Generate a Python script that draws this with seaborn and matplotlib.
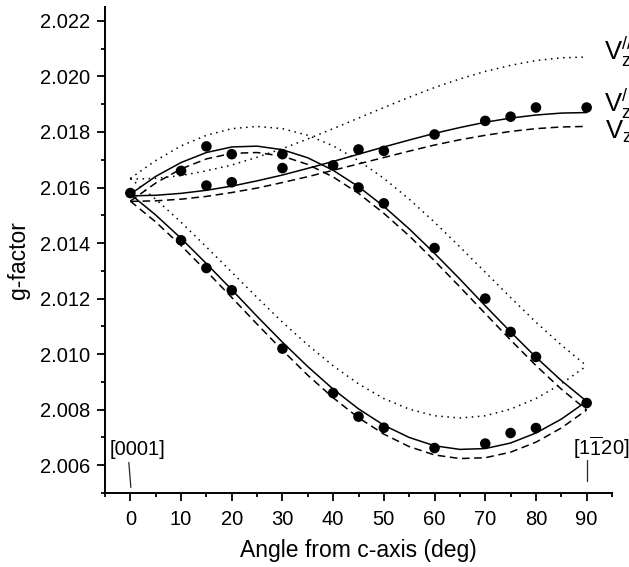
import matplotlib
matplotlib.use("Agg")
import matplotlib.pyplot as plt
import pandas as pd
import seaborn as sns
from matplotlib.ticker import MultipleLocator, FormatStrFormatter

# Rotation angle grid of the simulated curves (deg from c-axis)
angle = [0, 5, 10, 15, 20, 25, 30, 35, 40, 45, 50, 55, 60, 65, 70, 75, 80, 85, 90]

# V'_z model (solid)
solid_low = [2.01576, 2.01501, 2.01417, 2.01326, 2.01232, 2.01136, 2.01043, 2.00955, 2.00874, 2.00803,
             2.00744, 2.00700, 2.00670, 2.00657, 2.00660, 2.00680, 2.00716, 2.00766, 2.00830]
solid_mid = [2.01576, 2.01640, 2.01690, 2.01726, 2.01746, 2.01749, 2.01736, 2.01707, 2.01662, 2.01603,
             2.01532, 2.01451, 2.01363, 2.01270, 2.01174, 2.01080, 2.00989, 2.00905, 2.00830]
solid_up = [2.01570, 2.01572, 2.01579, 2.01590, 2.01605, 2.01624, 2.01645, 2.01669, 2.01694, 2.01720,
            2.01746, 2.01771, 2.01795, 2.01816, 2.01835, 2.01850, 2.01861, 2.01868, 2.01870]

# V_z model (dashed)
dash_low = [2.01551, 2.01476, 2.01391, 2.01299, 2.01204, 2.01108, 2.01014, 2.00924, 2.00843, 2.00771,
            2.00712, 2.00667, 2.00637, 2.00624, 2.00627, 2.00647, 2.00683, 2.00734, 2.00799]
dash_mid = [2.01551, 2.01616, 2.01667, 2.01703, 2.01723, 2.01726, 2.01713, 2.01683, 2.01638, 2.01579,
            2.01507, 2.01426, 2.01336, 2.01242, 2.01146, 2.01051, 2.00959, 2.00874, 2.00799]
dash_up = [2.01550, 2.01552, 2.01558, 2.01568, 2.01582, 2.01598, 2.01618, 2.01639, 2.01662, 2.01685,
           2.01708, 2.01731, 2.01753, 2.01772, 2.01788, 2.01802, 2.01812, 2.01818, 2.01820]

# V''_z model (dotted)
dot_low = [2.01633, 2.01558, 2.01475, 2.01386, 2.01295, 2.01204, 2.01115, 2.01033, 2.00958, 2.00893,
           2.00840, 2.00802, 2.00778, 2.00770, 2.00778, 2.00802, 2.00840, 2.00893, 2.00958]
dot_mid = [2.01633, 2.01697, 2.01750, 2.01788, 2.01812, 2.01820, 2.01812, 2.01788, 2.01750, 2.01697,
           2.01633, 2.01558, 2.01475, 2.01386, 2.01295, 2.01204, 2.01115, 2.01033, 2.00958]
dot_up = [2.01630, 2.01633, 2.01643, 2.01660, 2.01681, 2.01709, 2.01740, 2.01775, 2.01812, 2.01850,
          2.01888, 2.01925, 2.01960, 2.01991, 2.02018, 2.02040, 2.02057, 2.02067, 2.02070]

# Measured g-factors
meas_low_angle = [0, 10, 15, 20, 30, 40, 45, 50, 60, 70, 75, 80, 90]
meas_low_g = [2.0158, 2.0141, 2.0131, 2.0123, 2.0102, 2.0086, 2.00775, 2.00735, 2.00662, 2.00678,
              2.00716, 2.00734, 2.00824]
meas_mid_angle = [10, 15, 20, 30, 45, 50, 60, 70, 75, 80]
meas_mid_g = [2.0166, 2.01748, 2.0172, 2.0172, 2.0160, 2.01543, 2.01382, 2.0120, 2.0108, 2.0099]
meas_up_angle = [15, 20, 30, 40, 45, 50, 60, 70, 75, 80, 90]
meas_up_g = [2.01607, 2.01619, 2.0167, 2.0168, 2.01737, 2.01732, 2.01791, 2.0184, 2.01855, 2.01888,
             2.01888]

sns.set_theme(style="ticks")
plt.rcParams["font.family"] = ["Liberation Sans", "DejaVu Sans"]
plt.rcParams["text.color"] = "black"
plt.rcParams["axes.labelcolor"] = "black"
plt.rcParams["mathtext.fontset"] = "custom"
plt.rcParams["mathtext.rm"] = "Liberation Sans"
plt.rcParams["mathtext.it"] = "Liberation Sans:italic"
plt.rcParams["mathtext.bf"] = "Liberation Sans:bold"

curves = []
for model, branches in [("solid", [solid_low, solid_mid, solid_up]),
                        ("dashed", [dash_low, dash_mid, dash_up]),
                        ("dotted", [dot_low, dot_mid, dot_up])]:
    for k, vals in enumerate(branches):
        curves.append(pd.DataFrame({"angle": angle, "g": vals, "model": model, "branch": k}))
curves = pd.concat(curves, ignore_index=True)

points = pd.concat([
    pd.DataFrame({"angle": meas_low_angle, "g": meas_low_g}),
    pd.DataFrame({"angle": meas_mid_angle, "g": meas_mid_g}),
    pd.DataFrame({"angle": meas_up_angle, "g": meas_up_g}),
], ignore_index=True)

fig = plt.figure(figsize=(6.29, 5.67), dpi=100)
ax = fig.add_axes([105 / 629, 74 / 567, 507 / 629, 486 / 567])

styles = {"solid": "-", "dashed": (0, (5, 3)), "dotted": (0, (1, 3))}
for (model, branch), sub in curves.groupby(["model", "branch"]):
    sns.lineplot(data=sub, x="angle", y="g", ax=ax, color="black", lw=1.1,
                 linestyle=styles[model], estimator=None, sort=True, legend=False)

sns.scatterplot(data=points, x="angle", y="g", ax=ax, color="black", s=58,
                edgecolor="none", zorder=5, legend=False)

ax.set_xlim(-5, 95)
ax.set_ylim(2.005, 2.0225)
ax.xaxis.set_major_locator(MultipleLocator(10))
ax.xaxis.set_minor_locator(MultipleLocator(5))
ax.yaxis.set_major_locator(MultipleLocator(0.002))
ax.yaxis.set_minor_locator(MultipleLocator(0.001))
ax.yaxis.set_major_formatter(FormatStrFormatter("%.3f"))

sns.despine(ax=ax)
for side in ("left", "bottom"):
    ax.spines[side].set_linewidth(1.4)
    ax.spines[side].set_color("black")

ax.tick_params(axis="both", which="major", direction="out", length=6, width=1.3,
               color="black", labelsize=14.5, labelcolor="black")
ax.tick_params(axis="both", which="minor", direction="out", length=3, width=1.3, color="black")
ax.tick_params(axis="x", which="major", pad=6)
ax.tick_params(axis="y", which="major", pad=4.5)

ax.set_xlabel("Angle from c-axis (deg)", fontsize=16.5)
ax.set_ylabel("g-factor", fontsize=16.5)
ax.xaxis.set_label_coords(0.5, -0.095)
ax.yaxis.set_label_coords(-0.148, 0.48)

# crystal direction markers
ax.text(1.5, 2.00638, "[0001]", ha="center", va="baseline", fontsize=14.5)
ax.plot([-0.3, 0.1], [2.0061, 2.0052], color="0.15", lw=0.9)
ax.text(92.8, 2.00636, r"[1$\overline{\mathrm{1}}$20]", ha="center", va="baseline", fontsize=14.5)
ax.plot([90, 90], [2.0062, 2.00545], color="0.15", lw=0.9)

# curve labels
ax.text(93.4, 2.0206, r"$\mathrm{V}^{//}_{\mathrm{z}}$", ha="left", va="baseline", fontsize=18.5)
ax.text(93.4, 2.01873, r"$\mathrm{V}^{/}_{\mathrm{z}}$", ha="left", va="baseline", fontsize=18.5)
ax.text(93.7, 2.01776, r"$\mathrm{V}_{\mathrm{z}}$", ha="left", va="baseline", fontsize=18.5)

fig.savefig("out.png", dpi=100)
